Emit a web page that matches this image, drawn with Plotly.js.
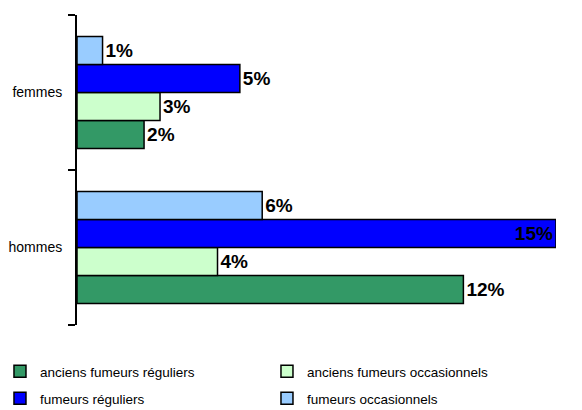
<!DOCTYPE html>
<html>
<head>
<meta charset="utf-8">
<script src="https://cdn.plot.ly/plotly-3.0.1.min.js"></script>
<style>html,body{margin:0;padding:0;background:#fff;}#chart{width:582px;height:410px;}</style>
</head>
<body>
<div id="chart"></div>
<script>
const categories = ["hommes", "femmes"];
const seriesNames = ["anciens fumeurs réguliers", "anciens fumeurs occasionnels", "fumeurs réguliers", "fumeurs occasionnels"];
const anciensReguliers = [12.1, 2.1];
const anciensOccasionnels = [4.4, 2.6];
const fumeursReguliers = [15.0, 5.1];
const fumeursOccasionnels = [5.8, 0.8];
const seriesValues = [anciensReguliers, anciensOccasionnels, fumeursReguliers, fumeursOccasionnels];
const seriesColors = ["#339966", "#CCFFCC", "#0000FF", "#99CCFF"];
const seriesLegend = ["legend", "legend", "legend2", "legend2"];

const labelFont = {family: "Liberation Sans, Arial, sans-serif", size: 19, color: "#000", weight: "bold"};

const traces = seriesValues.map((vals, i) => ({
  type: "bar",
  orientation: "h",
  name: seriesNames[i],
  legend: seriesLegend[i],
  y: categories,
  x: vals,
  marker: {color: seriesColors[i], line: {color: "#000", width: 1.5}},
  text: vals.map(v => Math.round(v) + "%"),
  textposition: vals.map(v => v >= 14.5 ? "inside" : "outside"),
  insidetextanchor: "end",
  textfont: labelFont,
  outsidetextfont: labelFont,
  insidetextfont: labelFont,
  constraintext: "none",
  cliponaxis: false,
  hoverinfo: "skip"
}));

const legendBase = {
  orientation: "h", xanchor: "left", yanchor: "top",
  entrywidth: 222, entrywidthmode: "pixels",
  traceorder: "normal",
  font: {family: "Liberation Sans, Arial, sans-serif", size: 13.5, color: "#000"},
  bgcolor: "rgba(0,0,0,0)"
};

const layout = {
  width: 582, height: 410,
  margin: {l: 77, r: 26, t: 15, b: 85, autoexpand: false},
  paper_bgcolor: "#fff", plot_bgcolor: "#fff",
  font: {family: "Liberation Sans, Arial, sans-serif", size: 14, color: "#000"},
  barmode: "group",
  bargap: 0.277,
  bargroupgap: 0,
  showlegend: true,
  xaxis: {range: [0, 15], showgrid: false, zeroline: false, showticklabels: false, showline: false, ticks: "", fixedrange: true},
  yaxis: {
    type: "category", range: [-0.5, 1.5],
    showline: true, linecolor: "#000", linewidth: 2,
    ticks: "outside", tickson: "boundaries", ticklen: 7, tickwidth: 2, tickcolor: "#000",
    showgrid: false, zeroline: false,
    tickfont: {size: 14, color: "#000"},
    ticklabelstandoff: 10
  },
  legend: Object.assign({}, legendBase, {x: -0.1608, y: -0.1}),
  legend2: Object.assign({}, legendBase, {x: -0.1608, y: -0.187})
};

Plotly.newPlot("chart", traces, layout, {displayModeBar: false, staticPlot: true});
</script>
</body>
</html>
